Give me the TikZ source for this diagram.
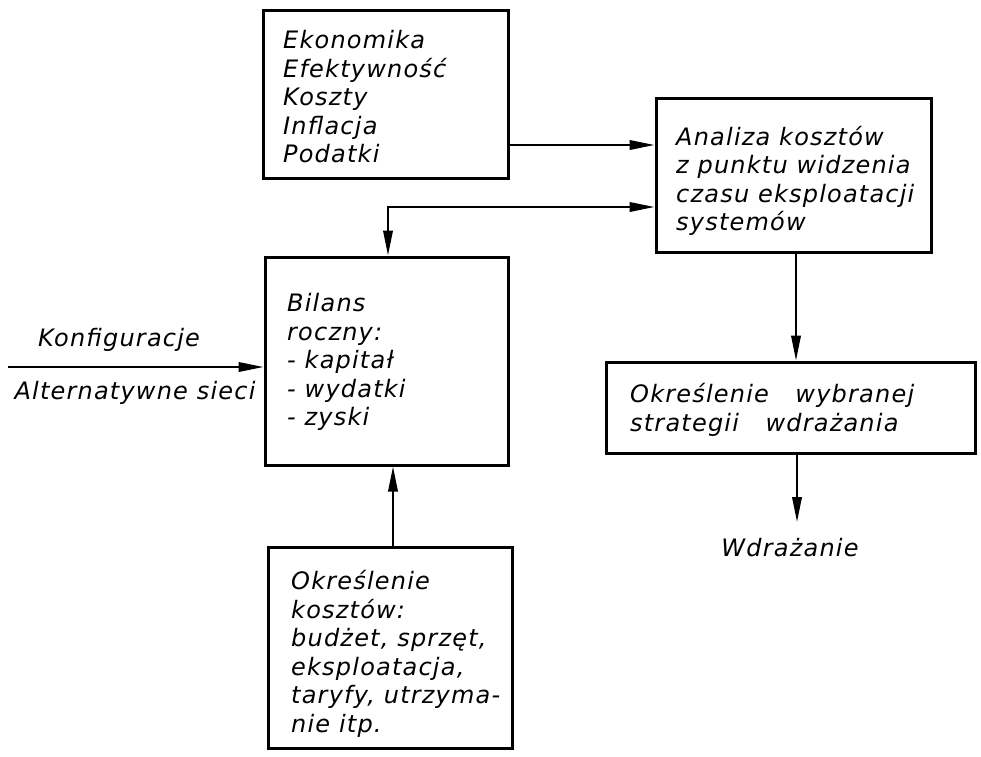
\documentclass[tikz,border=0pt]{standalone}
\usepackage{fontspec}
\setmainfont{DejaVu Sans}
\newfontfamily\hand[LetterSpace=5]{DejaVu Sans Oblique}
\usetikzlibrary{arrows.meta}
\begin{document}
\begin{tikzpicture}[x=1pt,y=-1pt,
  box/.style={draw, line width=3pt, inner sep=0pt},
  txt/.style={anchor=west, align=left, inner sep=0pt,
    font=\hand\fontsize{24}{28.5}\selectfont},
  lbl/.style={inner sep=0pt, font=\hand\fontsize{24}{28.5}\selectfont},
  arr/.style={line width=2.1pt, -{Triangle[length=25pt,width=9.5pt]}},
  arrboth/.style={line width=2.1pt,
    {Triangle[length=25pt,width=9.5pt]}-{Triangle[length=25pt,width=9.5pt]}}]
\useasboundingbox (0,0) rectangle (981,756);

% boxes
\node[box, minimum width=245pt, minimum height=168pt] (A) at (385.5,94) {};
\node[box, minimum width=275pt, minimum height=154pt] (B) at (793.5,175) {};
\node[box, minimum width=243pt, minimum height=208pt] (C) at (386.5,361) {};
\node[box, minimum width=244pt, minimum height=201pt] (D) at (390,647.5) {};
\node[box, minimum width=369pt, minimum height=91pt] (E) at (790.5,407.5) {};

% box texts
\node[txt] (At) at (283,97) {Ekonomika\\Efektywność\\Koszty\\Inflacja\\Podatki};
\node[txt] (Bt) at (676,181) {Analiza kosztów\\z punktu widzenia\\czasu eksploatacji\\systemów};
\node[txt] (Ct) at (287,362) {Bilans\\roczny:\\- kapitał\\- wydatki\\- zyski};
\node[txt] (Dt) at (291,654) {Określenie\\kosztów:\\budżet, sprzęt,\\eksploatacja,\\taryfy, utrzyma-\\nie itp.};
\node[txt] (Et) at (630,410) {Określenie\ \ \ wybranej\\strategii\ \ \ wdrażania};

% free labels
\node[lbl] (konf) at (119,340) {Konfiguracje};
\node[lbl] (alt) at (135,393) {Alternatywne sieci};
\node[lbl] (wdr) at (790,548) {Wdrażanie};

% connectors
\coordinate (in) at (8,367);
\coordinate (out) at (797,522);
\draw[arr] (A.east |- 0,145) -- (B.west |- 0,145);
\draw[arrboth] (C.north -| 388,0) |- (B.west |- 0,207);
\draw[arr] (in) -- (C.west |- in);
\draw[arr] (D.north -| 393,0) -- (C.south -| 393,0);
\draw[arr] (B.south -| 796,0) -- (E.north -| 796,0);
\draw[arr] (E.south -| out) -- (out);
\end{tikzpicture}
\end{document}
